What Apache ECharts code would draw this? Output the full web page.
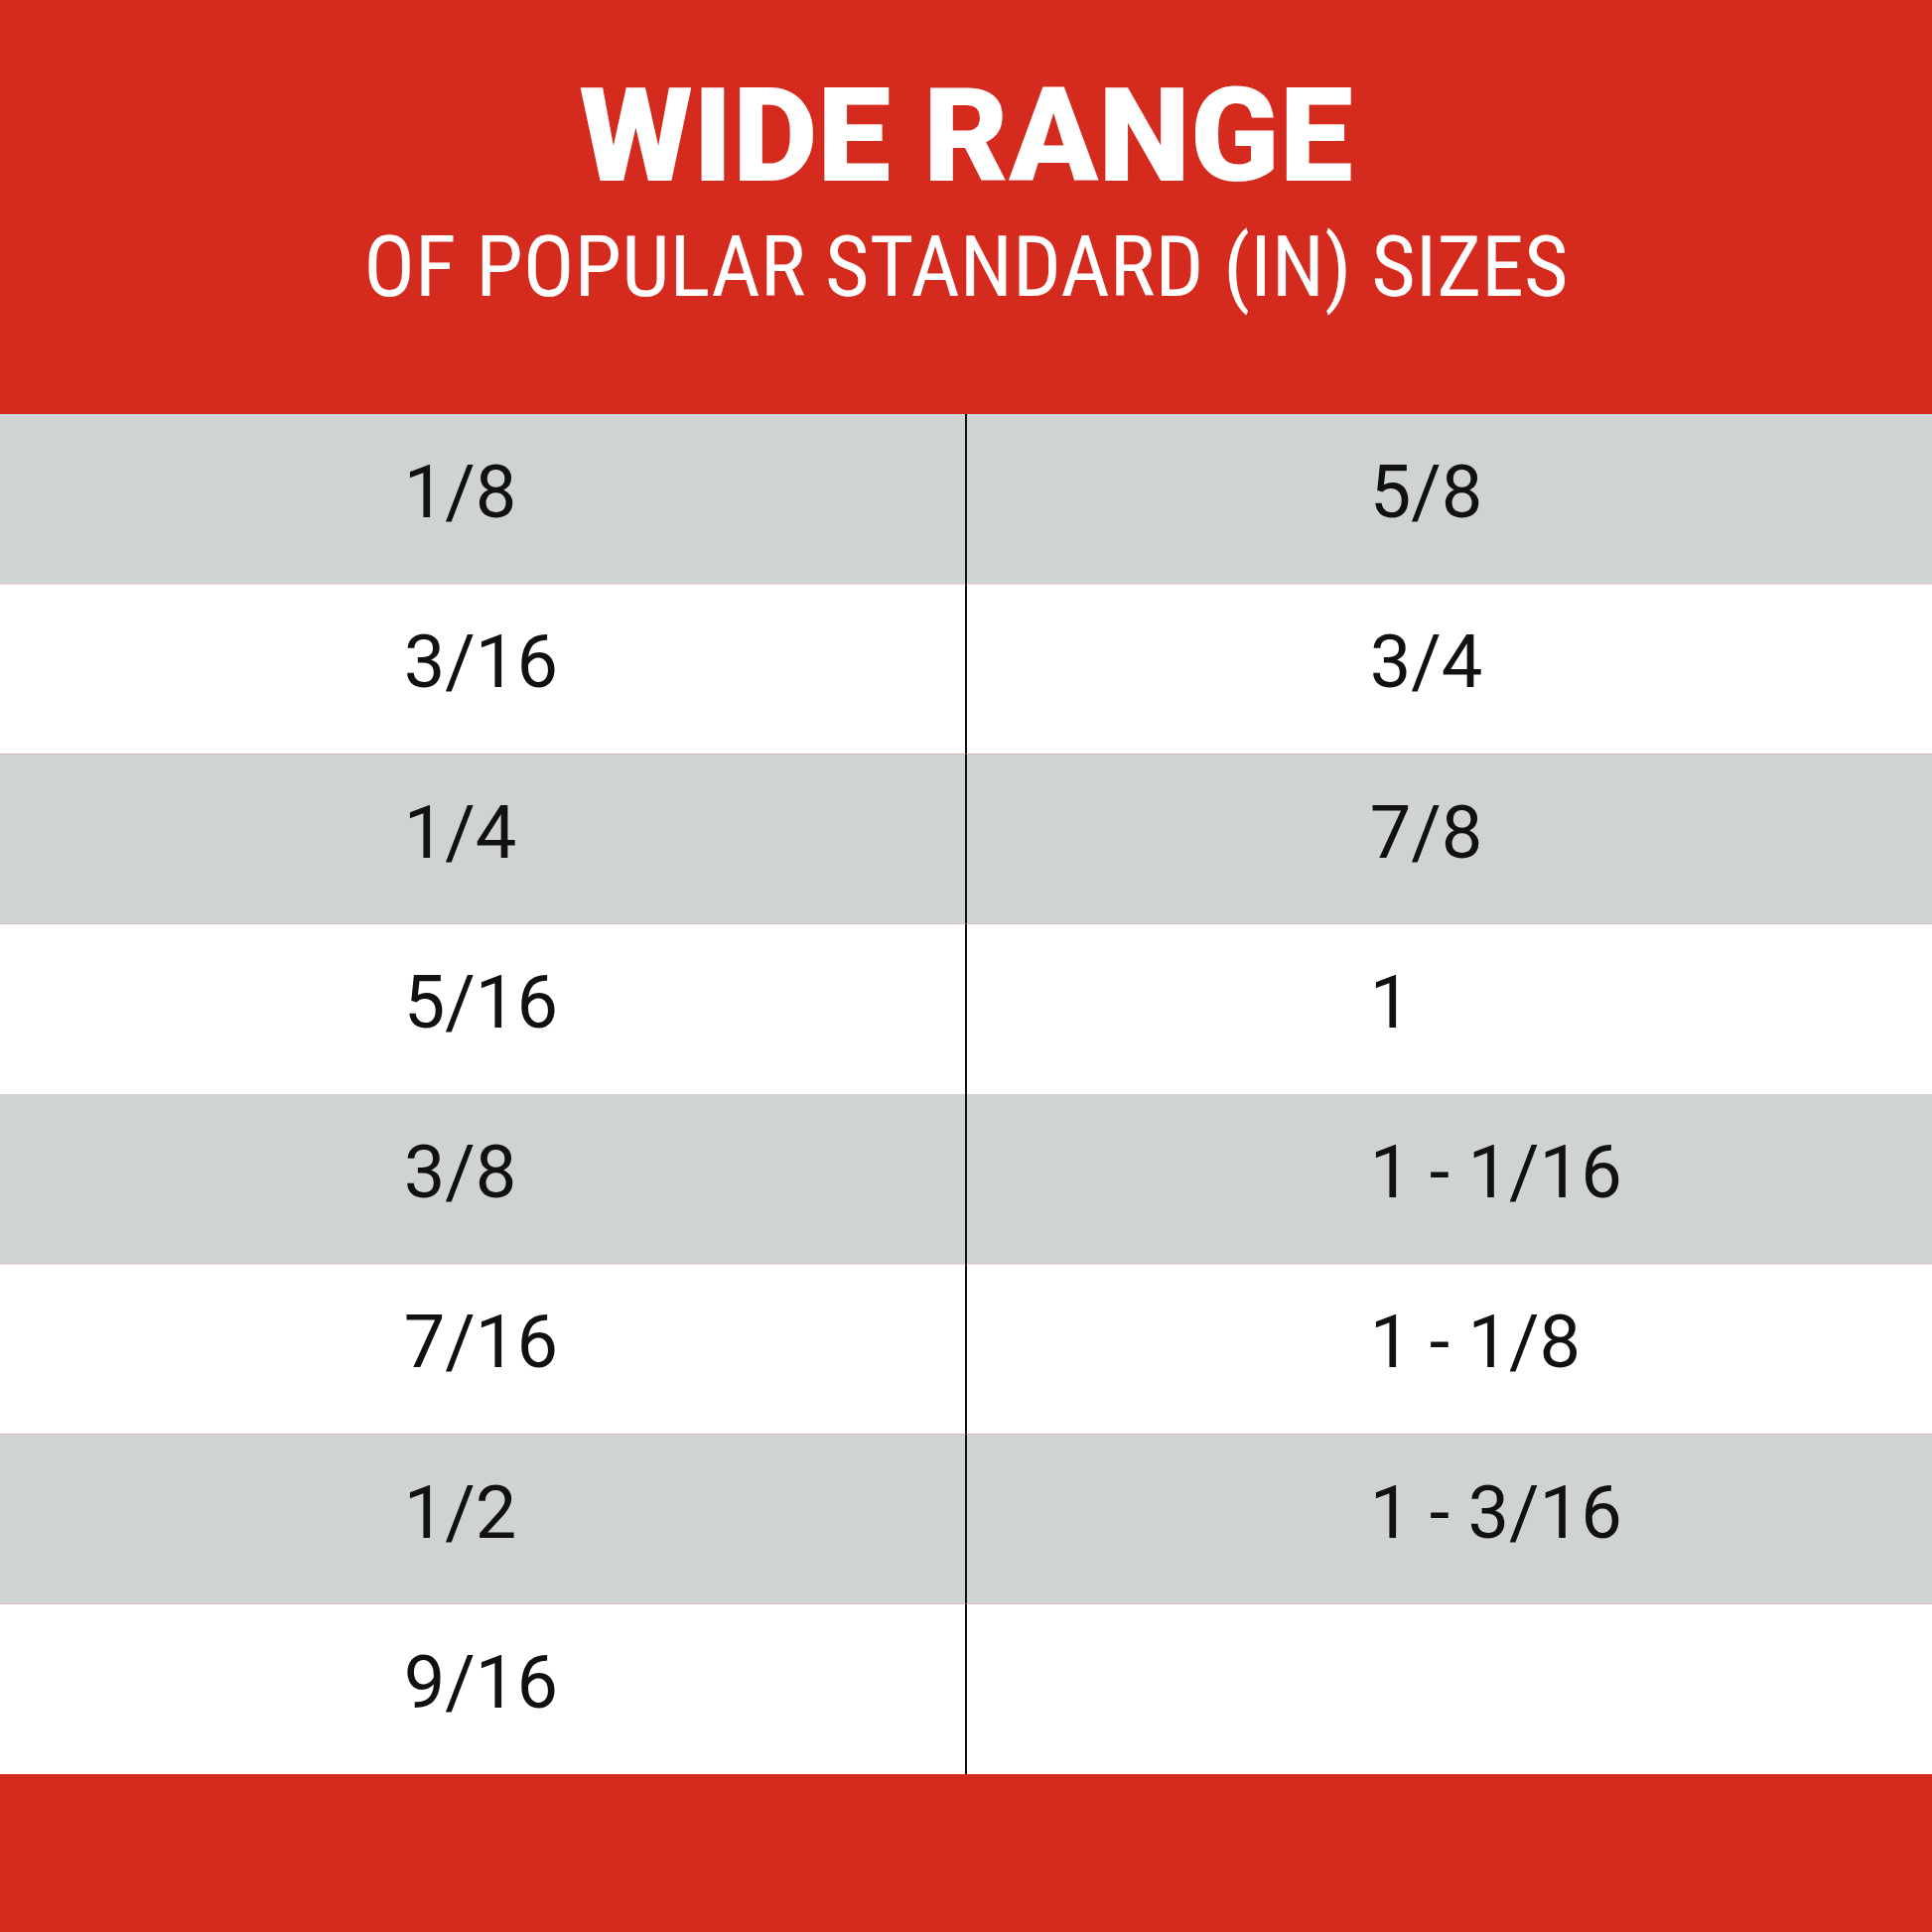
<!DOCTYPE html>
<html><head><meta charset="utf-8">
<script src="https://cdn.jsdelivr.net/npm/echarts@6/dist/echarts.min.js"></script>
<style>html,body{margin:0;padding:0}#c{width:1946px;height:1946px}</style>
</head><body><div id="c"></div>
<script>
const titleText = 'WIDE RANGE';
const subtitleText = 'OF POPULAR STANDARD (IN) SIZES';
const columns = ['left', 'right'];
const rows = [0, 1, 2, 3, 4, 5, 6, 7];
const leftSizes = ['1/8', '3/16', '1/4', '5/16', '3/8', '7/16', '1/2', '9/16'];
const rightSizes = ['5/8', '3/4', '7/8', '1', '1 - 1/16', '1 - 1/8', '1 - 3/16', ''];

const cells = [];
rows.forEach(r => {
  cells.push([0, r, leftSizes[r]]);
  cells.push([1, r, rightSizes[r]]);
});

const chart = echarts.init(document.getElementById('c'));
chart.setOption({
  backgroundColor: '#D52B1E',
  animation: false,
  title: [
    { text: titleText, left: 'center', top: 78, textStyle: { color: '#fff', fontSize: 132, fontWeight: 900, fontFamily: 'Roboto' } },
    { text: subtitleText, left: 'center', top: 228, textStyle: { color: '#fff', fontSize: 86, fontWeight: 'normal', fontFamily: 'Roboto Condensed, Roboto' } }
  ],
  grid: { left: 0, right: 0, top: 417, bottom: 159 },
  xAxis: { type: 'category', data: columns, show: false },
  yAxis: { type: 'category', data: rows, inverse: true, show: false },
  series: [{
    type: 'custom',
    data: cells,
    renderItem: function (params, api) {
      const c = api.coord([api.value(0), api.value(1)]);
      const s = api.size([1, 1]);
      const x0 = c[0] - s[0] / 2, y0 = c[1] - s[1] / 2;
      const r = api.value(1);
      const children = [{
        type: 'rect',
        shape: { x: x0, y: y0, width: s[0], height: s[1] },
        style: { fill: r % 2 === 0 ? '#D0D3D4' : '#FFFFFF' }
      }];
      const label = cells[params.dataIndex][2];
      if (label) children.push({
        type: 'text',
        style: { text: label, x: x0 + s[0] * 0.418, y: c[1], verticalAlign: 'middle', align: 'left',
          fill: '#111', fontSize: 74, fontFamily: 'Roboto' }
      });
      if (api.value(0) === 1) children.push({
        type: 'line',
        shape: { x1: x0, y1: y0, x2: x0, y2: y0 + s[1] },
        style: { stroke: '#111', lineWidth: 2 }
      });
      return { type: 'group', children };
    }
  }]
});
</script></body></html>
